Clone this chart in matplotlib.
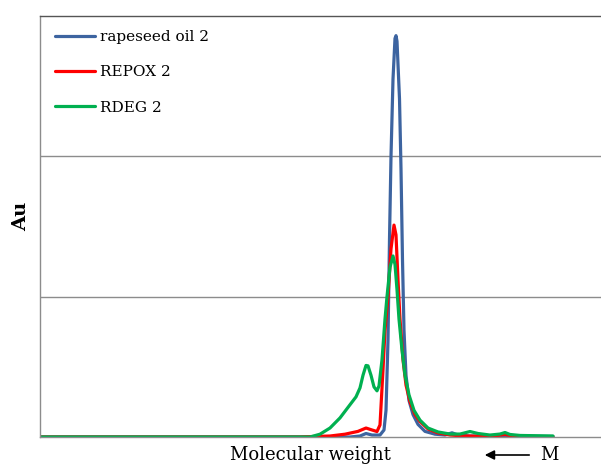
import matplotlib
matplotlib.use("Agg")
import matplotlib.pyplot as plt

# elution position (arbitrary units) and detector response (Au)
blue_x = [0, 31.0, 32.0, 32.6, 33.2, 34.0, 34.4, 34.6, 34.8, 34.95, 35.1, 35.3, 35.5, 35.6,
          35.7, 35.95, 36.1, 36.25, 36.4, 36.6, 36.9, 37.3, 37.8, 38.5, 39.5, 40.5, 41.2,
          41.8, 43.0, 46.0, 51.3]
blue_y = [0, 0, 0.007, 0.025, 0.014, 0.014, 0.05, 0.19, 0.69, 1.41, 2.0, 2.55, 2.84, 2.86,
          2.82, 2.41, 1.91, 1.26, 0.76, 0.44, 0.26, 0.16, 0.09, 0.04, 0.02, 0.014, 0.03,
          0.014, 0.007, 0.007, 0.004]

red_x = [0, 26.0, 27.5, 29.0, 30.5, 31.8, 32.6, 33.2, 33.7, 34.0, 34.3, 34.5, 34.8, 35.1,
         35.4, 35.6, 35.8, 36.0, 36.3, 36.6, 37.0, 37.5, 38.0, 38.8, 39.8, 41.0, 42.5, 45.0,
         46.5, 47.2, 51.3]
red_y = [0, 0, 0.004, 0.007, 0.02, 0.04, 0.064, 0.05, 0.039, 0.086, 0.48, 0.76, 1.0, 1.34,
         1.51, 1.44, 1.12, 0.84, 0.55, 0.37, 0.25, 0.16, 0.11, 0.057, 0.029, 0.014, 0.007,
         0.004, 0.018, 0.007, 0]

green_x = [0, 27.0, 28.0, 29.0, 30.0, 31.0, 31.6, 32.0, 32.3, 32.6, 32.8, 33.1, 33.4, 33.7,
           33.9, 34.2, 34.5, 34.7, 35.0, 35.3, 35.5, 35.7, 35.9, 36.2, 36.5, 36.9, 37.4,
           38.0, 38.8, 39.8, 41.0, 42.0, 43.0, 43.8, 45.0, 46.0, 46.5, 47.0, 48.0, 51.3]
green_y = [0, 0, 0.02, 0.064, 0.136, 0.23, 0.286, 0.35, 0.44, 0.51, 0.507, 0.44, 0.357,
           0.329, 0.364, 0.55, 0.84, 1.0, 1.21, 1.29, 1.23, 1.05, 0.84, 0.62, 0.44, 0.3,
           0.19, 0.12, 0.064, 0.036, 0.021, 0.021, 0.039, 0.025, 0.014, 0.021, 0.032,
           0.018, 0.011, 0.007]

labels = ["rapeseed oil 2", "REPOX 2", "RDEG 2"]
colors = ["#3d64a0", "#ff0000", "#00b050"]

fig = plt.figure(figsize=(6.01, 4.67), dpi=100)
ax = fig.add_axes([40 / 601, 30 / 467, 1 - 40 / 601, 421 / 467])

for xs, ys, lab, c in zip([blue_x, red_x, green_x], [blue_y, red_y, green_y], labels, colors):
    ax.plot(xs, ys, color=c, lw=2.3, label=lab, solid_capstyle="round")

ax.set_xlim(0, 56.1)
ax.set_ylim(0, 3.0)
ax.set_yticks([1, 2])
ax.set_xticks([])
ax.tick_params(axis="y", length=0, labelleft=False)
ax.grid(axis="y", color="#8c8c8c", lw=1.0)
ax.set_axisbelow(True)
ax.spines["right"].set_visible(False)
for s in ["top", "left", "bottom"]:
    ax.spines[s].set_color("#8c8c8c")
    ax.spines[s].set_linewidth(1.0)
ax.spines["top"].set_color("#555555")

leg = ax.legend(loc="upper left", bbox_to_anchor=(15 / 561, 1 - 14 / 421), frameon=False,
                prop={"family": "DejaVu Serif", "size": 11}, handlelength=2.6,
                handletextpad=0.35, labelspacing=1.4, borderpad=0, borderaxespad=0)

fig.text(21 / 601, 1 - 216 / 467, "Au", rotation=90, ha="center", va="center",
         family="DejaVu Serif", fontsize=14, fontweight="bold")
fig.text(310 / 601, 1 - 455 / 467, "Molecular weight", ha="center", va="center",
         family="DejaVu Serif", fontsize=13)
fig.text(540 / 601, 1 - 455 / 467, "M", ha="left", va="center",
         family="DejaVu Serif", fontsize=13)
fig.add_artist(matplotlib.patches.FancyArrowPatch(
    (532 / 601, 1 - 455 / 467), (482 / 601, 1 - 455 / 467), transform=fig.transFigure,
    arrowstyle="-|>", mutation_scale=14, color="black", lw=1.2))

fig.savefig("out.png", dpi=100)
